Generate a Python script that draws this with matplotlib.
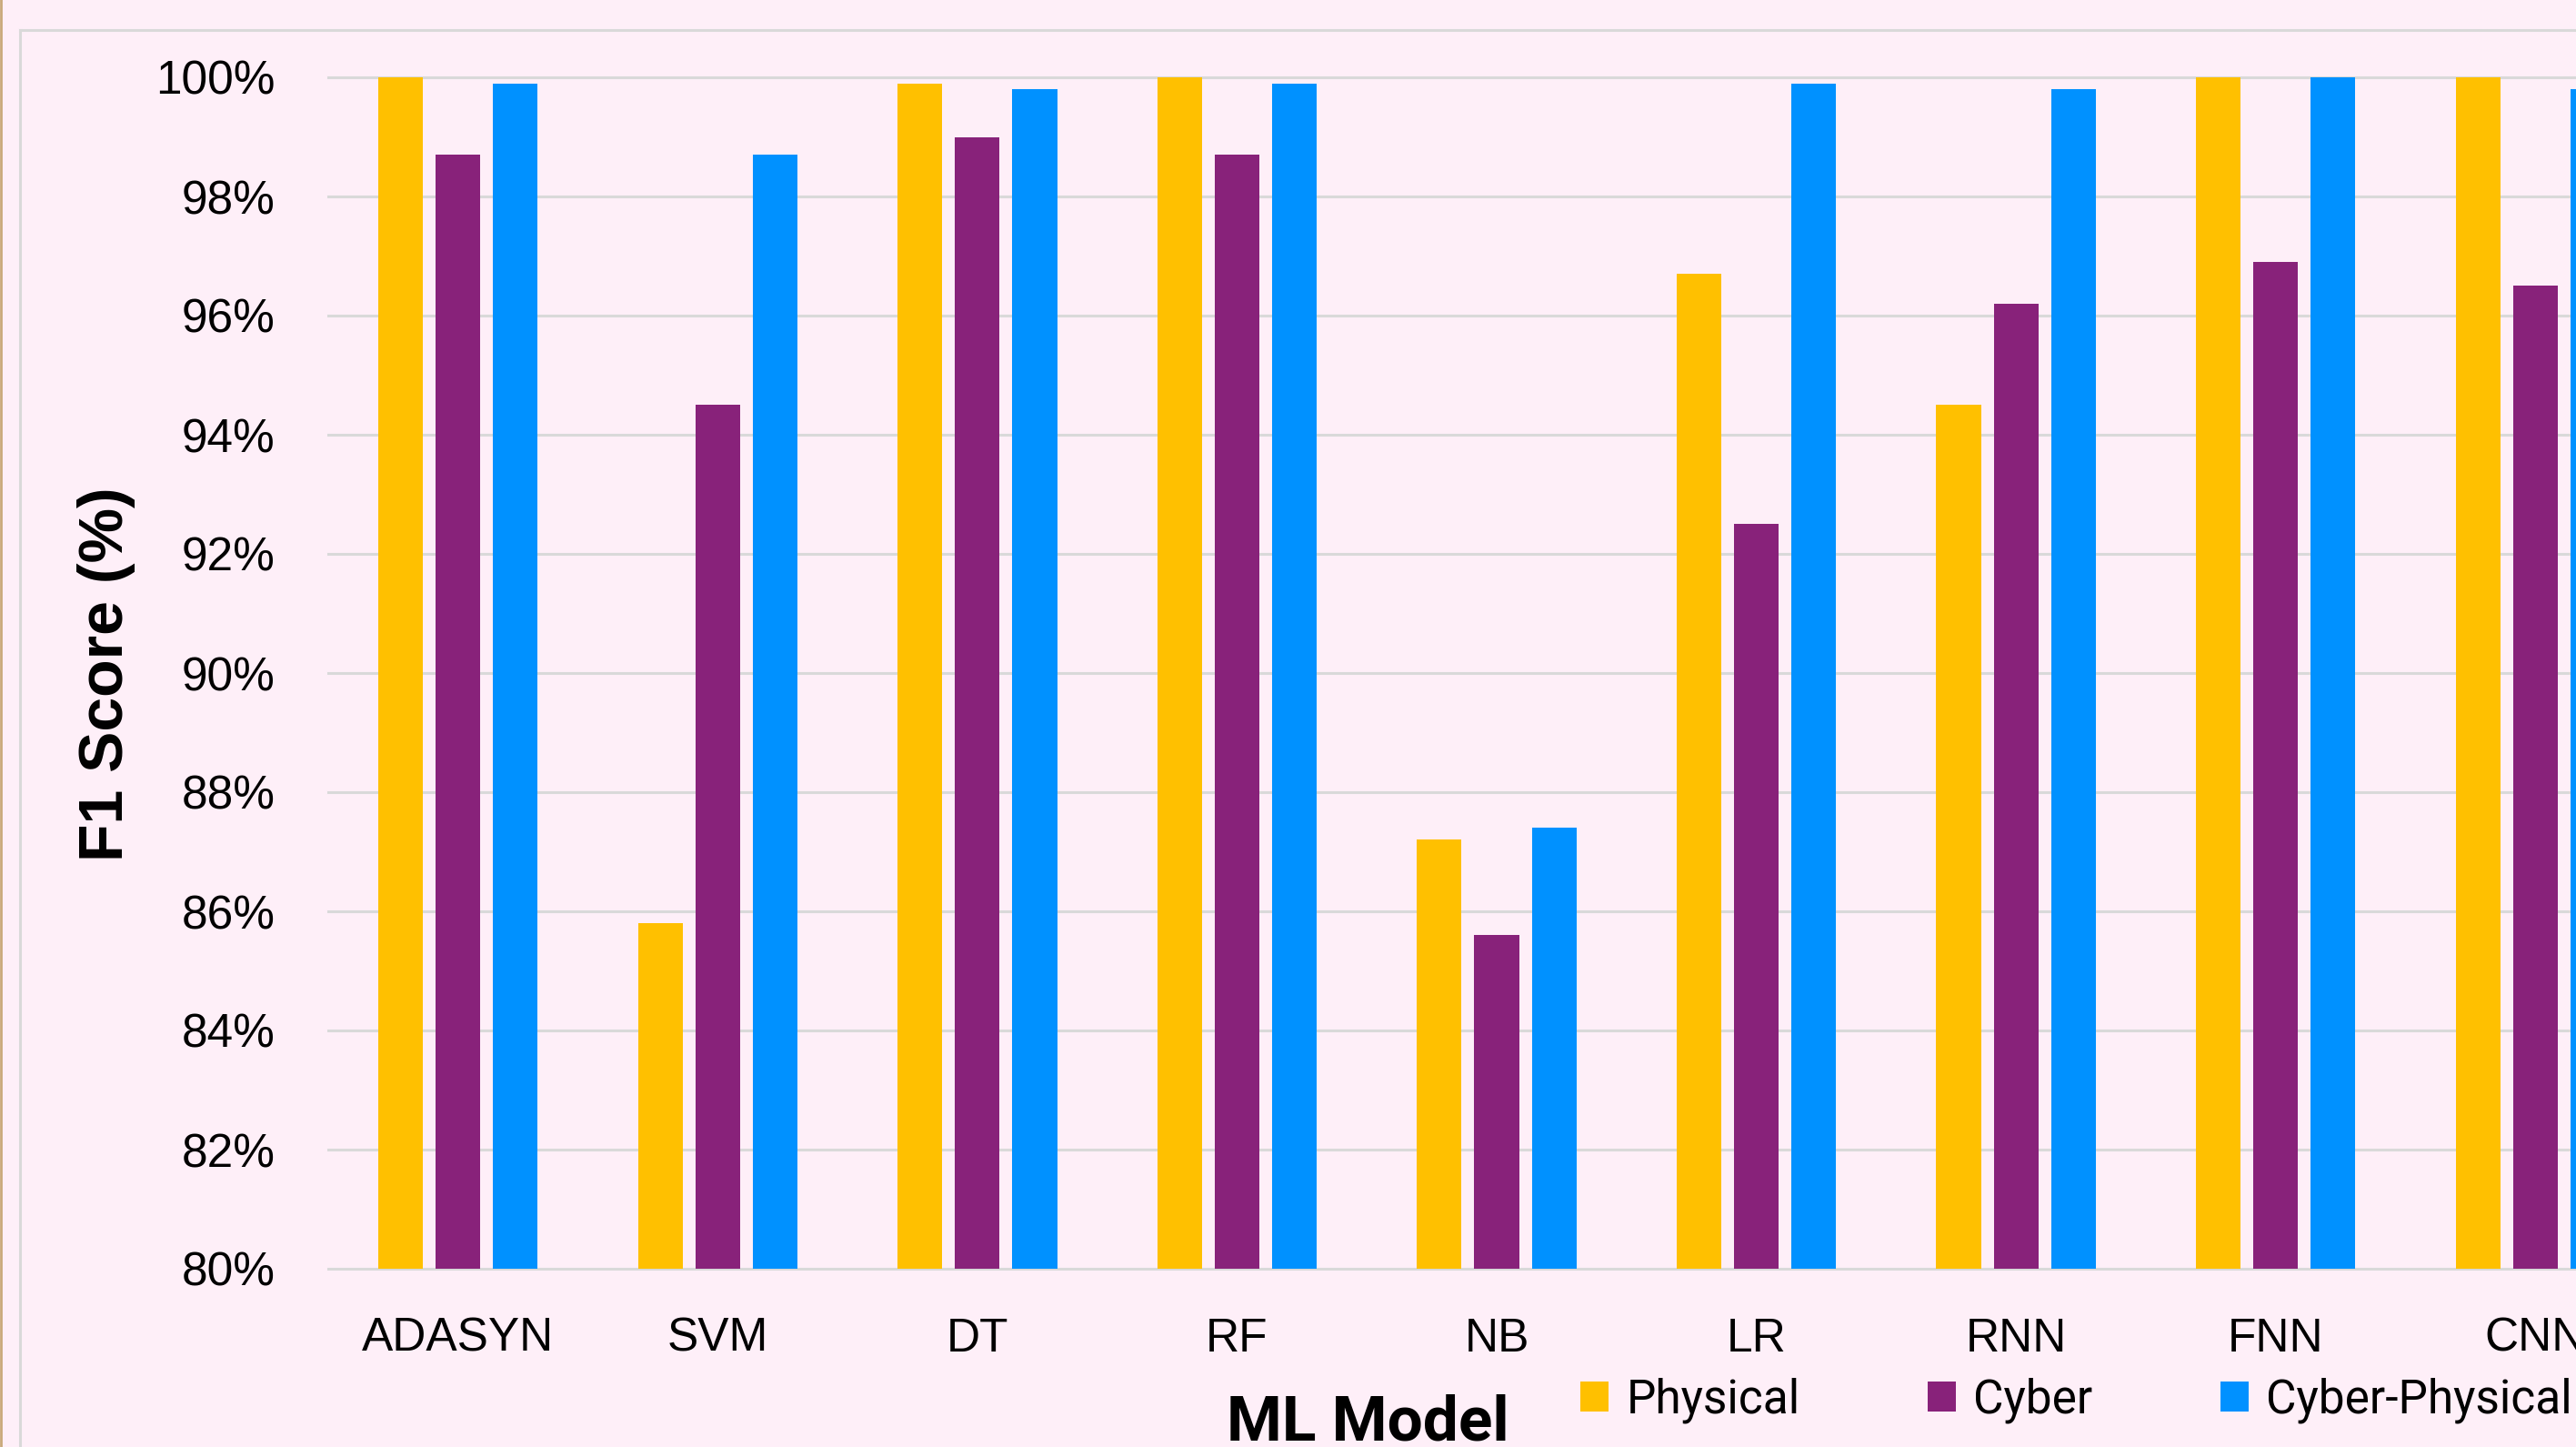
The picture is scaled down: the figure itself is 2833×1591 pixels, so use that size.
import matplotlib.pyplot as plt
from matplotlib.lines import Line2D
from matplotlib.patches import Patch
from matplotlib.ticker import FuncFormatter
import numpy as np

# F1 scores per model and attack type
models = ['ADASYN', 'SVM', 'DT', 'RF', 'NB', 'LR', 'RNN', 'FNN', 'CNN']
physical = [100.0, 85.8, 99.9, 100.0, 87.2, 96.7, 94.5, 100.0, 100.0]
cyber = [98.7, 94.5, 99.0, 98.7, 85.6, 92.5, 96.2, 96.9, 96.5]
cyber_physical = [99.9, 98.7, 99.8, 99.9, 87.4, 99.9, 99.8, 100.0, 99.8]
series_names = ['Physical', 'Cyber', 'Cyber-Physical']

colors = ['#FFC000', '#88227A', '#0091FF']
bg = '#FEEFF8'
grid_col = '#D9D9D9'

plt.rcParams['font.family'] = ['Liberation Sans', 'DejaVu Sans']

W, H = 2833, 1591
fig = plt.figure(figsize=(W / 100, H / 100), dpi=100, facecolor=bg)
ax = fig.add_axes([361 / W, 196 / H, 2570 / W, 1310 / H])
ax.set_facecolor(bg)

x = np.arange(len(models))
bw = 0.172
step = 0.221
for i, vals in enumerate([physical, cyber, cyber_physical]):
    ax.bar(x + (i - 1) * step, vals, width=bw, color=colors[i], zorder=3)

ax.set_xlim(-0.5, len(models) - 0.5)
ax.set_ylim(80, 100)
ax.set_yticks(np.arange(80, 101, 2))
ax.yaxis.set_major_formatter(FuncFormatter(lambda v, p: f'{v:.0f}%'))
ax.set_xticks(x)
ax.set_xticklabels(models)
ax.tick_params(axis='both', length=0, labelsize=37)
ax.tick_params(axis='y', pad=42)
ax.tick_params(axis='x', pad=38)
for s in ax.spines.values():
    s.set_visible(False)
ax.grid(axis='y', color=grid_col, linewidth=2.2, zorder=0)
ax.set_axisbelow(True)
for gl in ax.get_ygridlines():
    gl.set_clip_on(False)

# axis titles
fig.text(117 / W, 1 - 741 / H, 'F1 Score (%)', rotation=90, ha='center',
         va='center', fontsize=49, fontweight='bold')
fig.text(1504 / W, 1 - 1532 / H, 'ML Model', ha='center', va='top',
         fontsize=50, fontweight='bold', family=['Roboto', 'DejaVu Sans'])

# legend along the bottom
handles = [Patch(facecolor=c, edgecolor='none') for c in colors]
fig.legend(handles, series_names, loc='center left',
           bbox_to_anchor=(1738 / W, 1 - 1540 / H), ncol=3, frameon=False,
           borderpad=0, borderaxespad=0, handlelength=0.61, handleheight=0.61,
           handletextpad=0.37, columnspacing=2.73,
           prop={'family': ['Roboto', 'DejaVu Sans'], 'size': 37})

# chart area border and page edge
fig.add_artist(Line2D([22 / W, 1.0], [1 - 33 / H, 1 - 33 / H],
                      transform=fig.transFigure, color=grid_col, lw=2.2))
fig.add_artist(Line2D([22 / W, 22 / W], [1 - 33 / H, 0.0],
                      transform=fig.transFigure, color=grid_col, lw=2.2))
fig.add_artist(Line2D([1 / W, 1 / W], [0.0, 1.0],
                      transform=fig.transFigure, color='#C9A97A', lw=2))

fig.savefig('out.png', dpi=100, facecolor=bg)
